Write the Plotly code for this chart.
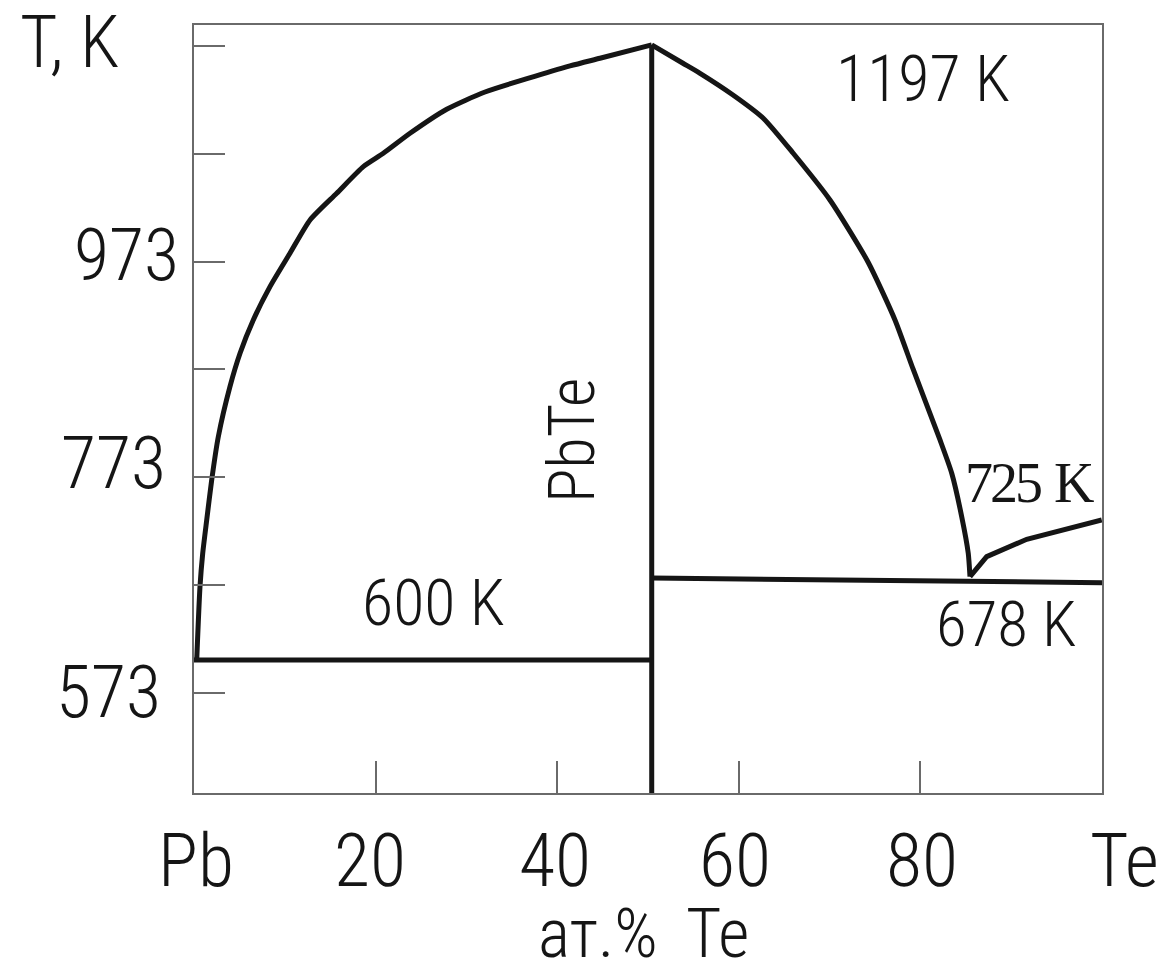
import plotly.graph_objects as go

# ---- data (at.% Te, T in K) ----
left_liq_x = [0.30, 0.66, 0.96, 1.40, 1.95, 2.68, 3.96, 5.07, 6.53, 8.37, 10.57, 12.78,
              15.72, 18.65, 20.85, 23.79, 27.83, 32.05, 41.41, 44.71, 50.41]
left_liq_t = [603.3, 671.3, 702.3, 733.2, 770.4, 810.6, 857.0, 888.0, 918.9, 949.8, 980.8, 1011.7,
              1036.5, 1061.2, 1073.6, 1092.2, 1114.5, 1130.5, 1154.7, 1161.8, 1174.2]
right_liq_x = [50.41, 53.85, 55.73, 59.36, 62.67, 65.97, 70.04, 74.23, 77.20, 79.19, 82.16,
               83.45, 84.55, 85.27, 85.46]
right_liq_t = [1174.2, 1157.2, 1147.9, 1127.8, 1106.4, 1073.9, 1030.3, 972.7, 918.9, 873.4, 807.5,
               776.6, 736.3, 702.3, 680.6]
te_liq_x = [85.46, 87.30, 91.71, 99.97]
te_liq_t = [680.6, 699.2, 715.3, 733.2]
eut_pb_x = [0.0, 50.41]
eut_pb_t = [603.3, 603.3]
eut_te_x = [50.41, 85.5, 100.0]
eut_te_t = [679.4, 676.2, 675.0]
pbte_x = [50.41, 50.41]
pbte_t = [1174.2, 479.8]

y_ticks = [573, 673, 773, 873, 973, 1073, 1173]
x_ticks = [20, 40, 60, 80, 100]
x_labels = ["Pb", "20", "40", "60", "80", "Te"]
x_label_pos = [0.22, 19.38, 39.76, 59.58, 80.18, 102.53]
y_labels = ["973", "773", "573"]
y_label_pos = [978.3, 786.1, 572.7]
y_label_x = [-1.43, -2.86, -3.42]

X_RANGE = [0, 100]
Y_RANGE = [479.8, 1192.7]

SANS = "'Roboto Condensed', 'DejaVu Sans Condensed', sans-serif"
SERIF = "'Liberation Serif', 'Times New Roman', serif"
INK = "#151515"
FRAME = "#6a6a6a"

fig = go.Figure()
for xs, ts, shape in [(left_liq_x, left_liq_t, "spline"), (right_liq_x, right_liq_t, "spline"),
                      (te_liq_x, te_liq_t, "linear"), (eut_pb_x, eut_pb_t, "linear"),
                      (eut_te_x, eut_te_t, "linear"), (pbte_x, pbte_t, "linear")]:
    fig.add_trace(go.Scatter(x=xs, y=ts, mode="lines",
                             line=dict(color=INK, width=5, shape=shape, smoothing=0.6),
                             showlegend=False, hoverinfo="skip", cliponaxis=False))


def px(c):
    return (c - X_RANGE[0]) / (X_RANGE[1] - X_RANGE[0])


def py(t):
    return (t - Y_RANGE[0]) / (Y_RANGE[1] - Y_RANGE[0])


anns = []


def txt(text, x, y, size, family=SANS, xanchor="center", angle=0, weight=300):
    anns.append(dict(text=text, x=px(x), y=py(y), xref="paper", yref="paper", showarrow=False,
                     xanchor=xanchor, yanchor="middle", textangle=angle,
                     font=dict(family=family, size=size, color=INK, weight=weight)))


txt("T, K", -13.66, 1176.9, 72)
for lab, yv, xv in zip(y_labels, y_label_pos, y_label_x):
    txt(lab, xv, yv, 72, xanchor="right")
for lab, xv in zip(x_labels, x_label_pos):
    txt(lab, xv, 417.5, 74)
txt("ат.%\u2009 Te", 49.45, 349.1, 68)
txt("1197 K", 80.29, 1141.8, 64)
txt("600 K", 26.43, 655.3, 64)
txt("678 K", 89.43, 635.8, 63)
txt('<span style="letter-spacing:-3px">725</span> K', 92.0, 767.6, 56, family=SERIF, weight=400)
txt("PbTe", 41.74, 807.5, 64, angle=-90)

fig.update_layout(
    width=1165, height=978, autosize=False,
    margin=dict(l=194, r=63, t=25, b=185, pad=0),
    paper_bgcolor="white", plot_bgcolor="white",
    annotations=anns,
    xaxis=dict(range=X_RANGE, showgrid=False, zeroline=False, showline=True, mirror=True,
               linecolor=FRAME, linewidth=1.5, ticks="inside", ticklen=32, tickwidth=1.5,
               tickcolor=FRAME, tickvals=x_ticks, showticklabels=False),
    yaxis=dict(range=Y_RANGE, showgrid=False, zeroline=False, showline=True, mirror=True,
               linecolor=FRAME, linewidth=1.5, ticks="inside", ticklen=31, tickwidth=1.5,
               tickcolor=FRAME, tickvals=y_ticks, showticklabels=False),
)

fig.write_html("out.html", config={"displayModeBar": False},
               post_script="document.body.style.margin='0';document.body.style.overflow='hidden';")
